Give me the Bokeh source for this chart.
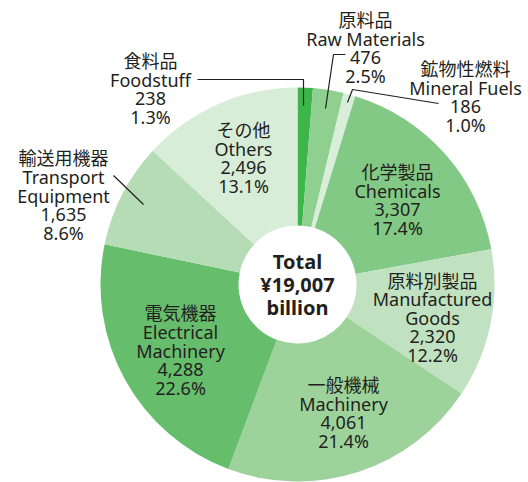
import math
from bokeh.plotting import figure
from bokeh.models import Range1d, ColumnDataSource
from bokeh.core.properties import value
from bokeh.embed import file_html
from bokeh.resources import INLINE

# ---- data ----
names_ja = ["食料品", "原料品", "鉱物性燃料", "化学製品", "原料別製品", "一般機械", "電気機器", "輸送用機器", "その他"]
names_en = ["Foodstuff", "Raw Materials", "Mineral Fuels", "Chemicals", "Manufactured\nGoods",
            "Machinery", "Electrical\nMachinery", "Transport\nEquipment", "Others"]
values = [238, 476, 186, 3307, 2320, 4061, 4288, 1635, 2496]
value_labels = ["238", "476", "186", "3,307", "2,320", "4,061", "4,288", "1,635", "2,496"]
pct_labels = ["1.3%", "2.5%", "1.0%", "17.4%", "12.2%", "21.4%", "22.6%", "8.6%", "13.1%"]
colors = ["#3db54b", "#8fcf8f", "#d9eed9", "#82c985", "#c1e2c0", "#9dd39b", "#66bd6c", "#b6dcb5", "#d8edd7"]
total_lines = ["Total", "¥19,007", "billion"]

# label anchor positions (pixel units relative to pie centre)
label_x = [-147, 68, 168, 100, 135, 46, -117, -234, -54]
label_y = [195.5, 236.5, 187.5, 84.5, -33.5, -128.5, -66, 89, 126.5]

FONT = "Noto Sans, Noto Sans CJK JP"
TXT = "#231f20"
LINE = 18.7
TLINE = 23
W, H = 528, 482
CX, CY = 297, 284

total = sum(values)
starts, ends = [], []
cum = 0.0
for v in values:
    starts.append(math.pi / 2 - 2 * math.pi * cum / total)
    cum += v
    ends.append(math.pi / 2 - 2 * math.pi * cum / total)

src = ColumnDataSource(dict(start=starts, end=ends, color=colors))

p = figure(width=W, height=H, output_backend="svg", toolbar_location=None,
           x_range=Range1d(-CX, W - CX), y_range=Range1d(CY - H, CY),
           min_border=0, outline_line_color=None)
p.axis.visible = False
p.grid.visible = False

p.annular_wedge(x=0, y=0, inner_radius=59, outer_radius=197, start_angle="start", end_angle="end",
                direction="clock", fill_color="color", line_color=None, source=src)

lx, ly, lt = [], [], []
for j, e, v, pc, x0, y0 in zip(names_ja, names_en, value_labels, pct_labels, label_x, label_y):
    lines = [j] + e.split("\n") + [v, pc]
    n = len(lines)
    for i, s in enumerate(lines):
        lx.append(x0)
        ly.append(y0 - (i - (n - 1) / 2) * LINE)
        lt.append(s)

p.text(x=lx, y=ly, text=lt, text_align="center", text_baseline="middle",
       text_font=value(FONT), text_font_size="18px", text_color=TXT)

n = len(total_lines)
p.text(x=[0] * n, y=[-(i - (n - 1) / 2) * TLINE for i in range(n)], text=total_lines,
       text_align="center", text_baseline="middle",
       text_font=value(FONT), text_font_size="20px", text_font_style="bold", text_color=TXT)

# leader lines
p.line(x=[-100, 6, 6], y=[205, 205, 179], line_color="#231f20", line_width=1.2)
p.line(x=[48, 36, 28], y=[230, 230, 176], line_color="#231f20", line_width=1.2)
p.line(x=[50, 55, 141], y=[182, 195, 181], line_color="#231f20", line_width=1.2)
p.line(x=[-184, -154], y=[109, 80], line_color="#231f20", line_width=1.2)

open("out.html", "w").write(file_html(p, INLINE))
